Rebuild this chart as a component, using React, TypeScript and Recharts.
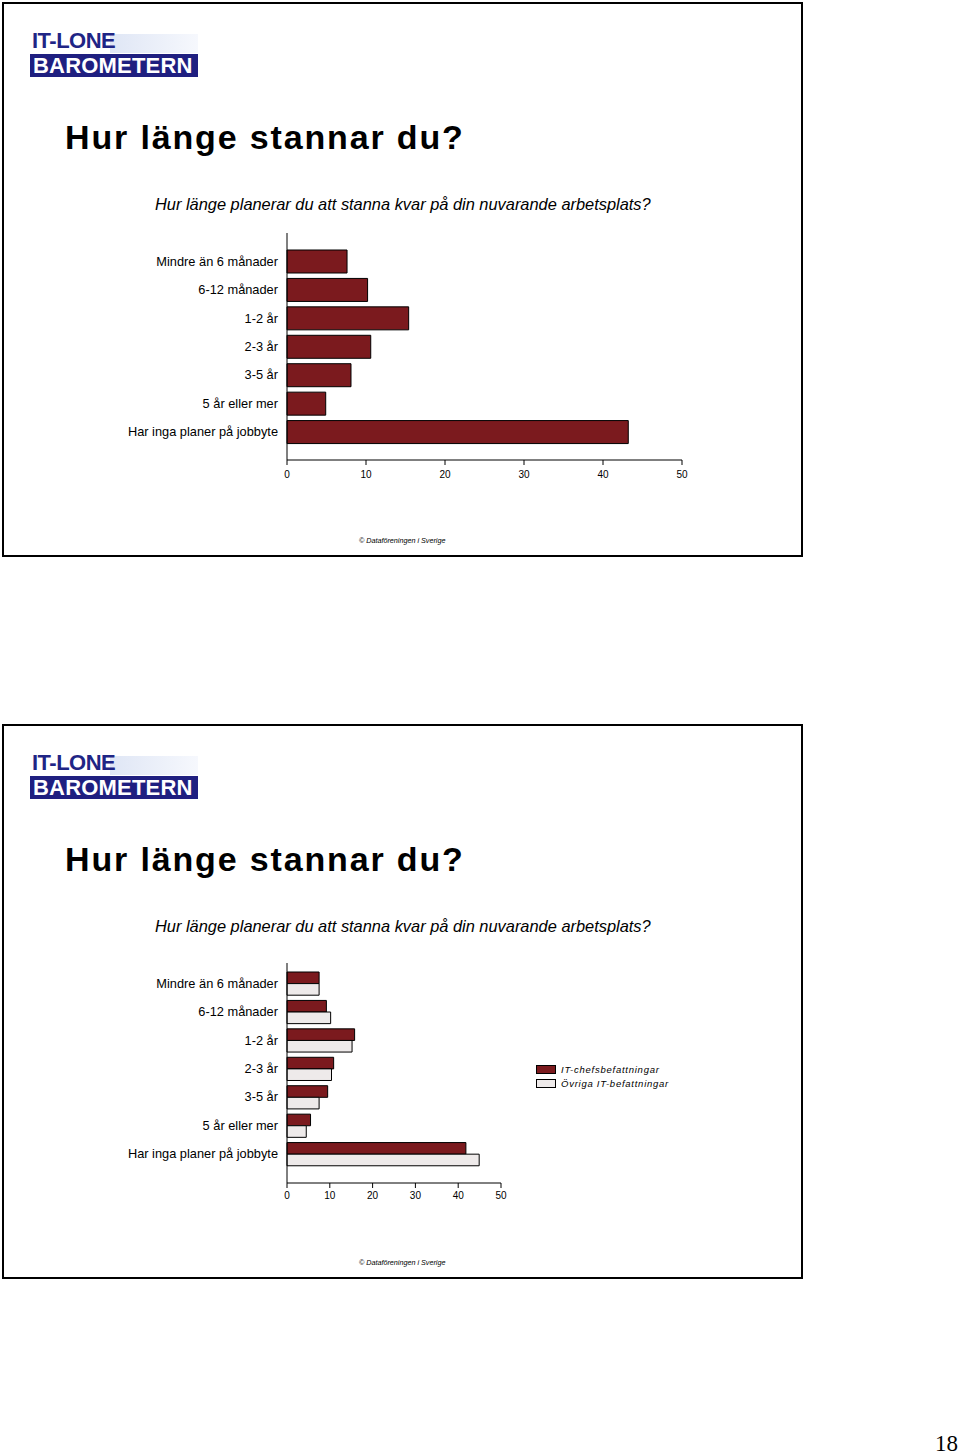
import { Bar, BarChart, XAxis, YAxis } from "recharts";

const categories = [
  "Mindre än 6 månader",
  "6-12 månader",
  "1-2 år",
  "2-3 år",
  "3-5 år",
  "5 år eller mer",
  "Har inga planer på jobbyte",
];
const allValues = [7.6, 10.2, 15.4, 10.6, 8.1, 4.9, 43.2];
const chefValues = [7.5, 9.2, 15.8, 10.9, 9.5, 5.5, 41.8];
const ovrigaValues = [7.5, 10.2, 15.2, 10.4, 7.5, 4.5, 44.9];
const xTicks = [0, 10, 20, 30, 40, 50];

const seriesNames = ["IT-chefsbefattningar", "Övriga IT-befattningar"];
const title = "Hur länge stannar du?";
const question = "Hur länge planerar du att stanna kvar på din nuvarande arbetsplats?";
const footer = "© Dataföreningen i Sverige";

const DARK = "#7b1a1e";
const LIGHT = "#eeeaea";
const FONT = "'Liberation Sans', Arial, sans-serif";

const data1 = categories.map((name, i) => ({ name, value: allValues[i] }));
const data2 = categories.map((name, i) => ({
  name,
  chef: chefValues[i],
  ovriga: ovrigaValues[i],
}));

const yTick = { fontSize: 12.8, fill: "#000", fontFamily: FONT };
const xTick = { fontSize: 10, fill: "#000", fontFamily: FONT };

const Logo = ({ top }: { top: number }) => (
  <div style={{ position: "absolute", left: 30, top: top + 28, width: 168, height: 48 }}>
    <div
      style={{
        position: "absolute",
        left: 80,
        top: 4,
        width: 88,
        height: 19,
        background: "linear-gradient(90deg, #dfe6f5, #f6f8fd)",
      }}
    />
    <div
      style={{
        position: "absolute",
        left: 2,
        top: 0,
        fontFamily: FONT,
        fontWeight: "bold",
        fontSize: 22,
        lineHeight: "22px",
        color: "#1f2585",
        letterSpacing: -0.5,
      }}
    >
      IT-LONE
    </div>
    <div
      style={{
        position: "absolute",
        left: 0,
        top: 24,
        width: 168,
        height: 23,
        background: "#1f1f80",
        color: "#fff",
        fontFamily: FONT,
        fontWeight: "bold",
        fontSize: 22,
        lineHeight: "23px",
        paddingLeft: 3,
        boxSizing: "border-box",
        letterSpacing: 0.2,
      }}
    >
      BAROMETERN
    </div>
  </div>
);

const Slide = ({ top, children }: { top: number; children: React.ReactNode }) => (
  <>
    <div
      style={{
        position: "absolute",
        left: 2,
        top,
        width: 801,
        height: 555,
        border: "2px solid #000",
        boxSizing: "border-box",
      }}
    />
    <Logo top={top} />
    <div
      style={{
        position: "absolute",
        left: 65,
        top: top + 116,
        fontFamily: FONT,
        fontWeight: "bold",
        fontSize: 34,
        lineHeight: "38px",
        letterSpacing: 1.85,
        whiteSpace: "nowrap",
      }}
    >
      {title}
    </div>
    <div
      style={{
        position: "absolute",
        left: 155,
        top: top + 193,
        fontFamily: FONT,
        fontStyle: "italic",
        fontSize: 16.4,
        lineHeight: "18px",
        whiteSpace: "nowrap",
      }}
    >
      {question}
    </div>
    {children}
    <div
      style={{
        position: "absolute",
        left: 359,
        top: top + 534,
        fontFamily: FONT,
        fontStyle: "italic",
        fontSize: 7.2,
        lineHeight: "10px",
        whiteSpace: "nowrap",
      }}
    >
      {footer}
    </div>
  </>
);

const App = () => {
  return (
    <div style={{ position: "absolute", left: 0, top: 0, width: 960, height: 1454, background: "#fff" }}>
      <Slide top={2}>
        <div style={{ position: "absolute", left: 100, top: 225 }}>
          <BarChart
            width={620}
            height={270}
            data={data1}
            layout="vertical"
            margin={{ top: 8, right: 38, bottom: 5, left: 0 }}
          >
            <XAxis
              type="number"
              domain={[0, 50]}
              ticks={xTicks}
              tick={xTick}
              tickSize={5}
              tickMargin={6}
              height={30}
              stroke="#000"
              interval={0}
            />
            <YAxis
              type="category"
              dataKey="name"
              width={187}
              tick={yTick}
              tickLine={false}
              tickMargin={3}
              stroke="#000"
              padding={{ top: 14, bottom: 14 }}
              interval={0}
            />
            <Bar dataKey="value" fill={DARK} stroke="#000" strokeWidth={1} barSize={23} isAnimationActive={false} />
          </BarChart>
        </div>
      </Slide>

      <Slide top={724}>
        <div style={{ position: "absolute", left: 100, top: 955 }}>
          <BarChart
            width={440}
            height={263}
            data={data2}
            layout="vertical"
            margin={{ top: 8, right: 39, bottom: 5, left: 0 }}
            barGap={0}
          >
            <XAxis
              type="number"
              domain={[0, 50]}
              ticks={xTicks}
              tick={xTick}
              tickSize={5}
              tickMargin={4}
              height={30}
              stroke="#000"
              interval={0}
            />
            <YAxis
              type="category"
              dataKey="name"
              width={187}
              tick={yTick}
              tickLine={false}
              tickMargin={3}
              stroke="#000"
              padding={{ top: 6, bottom: 15 }}
              interval={0}
            />
            <Bar dataKey="chef" name={seriesNames[0]} fill={DARK} stroke="#000" strokeWidth={1} barSize={11.6} isAnimationActive={false} />
            <Bar dataKey="ovriga" name={seriesNames[1]} fill={LIGHT} stroke="#000" strokeWidth={1} barSize={11.6} isAnimationActive={false} />
          </BarChart>
        </div>
        <div style={{ position: "absolute", left: 536, top: 1063, fontFamily: FONT }}>
          {seriesNames.map((name, i) => (
            <div key={name} style={{ display: "flex", alignItems: "center", height: 13.5 }}>
              <div
                style={{
                  width: 18,
                  height: 7,
                  background: i === 0 ? DARK : LIGHT,
                  border: "1px solid #000",
                  marginRight: 5,
                }}
              />
              <span style={{ fontStyle: "italic", fontSize: 9.5, letterSpacing: 0.75, whiteSpace: "nowrap" }}>
                {name}
              </span>
            </div>
          ))}
        </div>
      </Slide>

      <div
        style={{
          position: "absolute",
          right: 2,
          top: 1432,
          fontFamily: "'Liberation Serif', 'Times New Roman', serif",
          fontSize: 23,
          lineHeight: "24px",
        }}
      >
        18
      </div>
    </div>
  );
};

export default App;
